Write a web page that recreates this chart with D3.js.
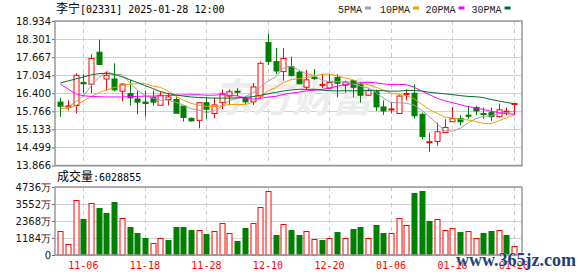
<!DOCTYPE html>
<html>
<head>
<meta charset="utf-8">
<script src="https://cdn.jsdelivr.net/npm/d3@7"></script>
<style>
  body { margin: 0; background: #fff; }
  svg { display: block; }
</style>
</head>
<body>
<svg width="578" height="276"></svg>
<script>
// trading days shown (2024-11-01 .. 2025-01-28)
const dates = ["11-01","11-04","11-05","11-06","11-07","11-08","11-11","11-12","11-13","11-14",
  "11-15","11-18","11-19","11-20","11-21","11-22","11-25","11-26","11-27","11-28",
  "11-29","12-02","12-03","12-04","12-05","12-06","12-09","12-10","12-11","12-12",
  "12-13","12-16","12-17","12-18","12-19","12-20","12-23","12-24","12-27","12-30",
  "12-31","01-02","01-03","01-06","01-07","01-08","01-09","01-10","01-13","01-14",
  "01-15","01-16","01-17","01-20","01-21","01-22","01-23","01-24","01-27","01-28"];

const opens = [16.09,15.92,15.97,16.78,16.72,17.84,16.90,16.90,16.47,16.39,
  16.20,16.09,16.26,15.98,16.18,16.18,15.95,15.52,15.45,16.07,
  15.69,16.07,16.30,16.47,16.22,16.10,16.30,18.18,17.51,17.16,
  17.33,17.14,16.61,16.95,16.69,16.58,16.95,16.68,16.84,16.70,
  16.33,16.45,15.92,15.83,15.69,16.37,16.40,15.66,14.69,14.71,
  15.02,15.40,15.51,15.63,15.90,15.69,15.72,15.58,15.76,16.03];
const highs = [16.24,16.15,17.10,17.07,17.77,18.28,17.16,17.45,16.74,16.87,
  16.49,16.49,16.49,16.46,16.41,16.26,15.95,15.55,16.07,16.26,
  16.24,16.53,16.53,16.58,16.30,16.76,17.51,18.49,17.99,17.99,
  17.68,17.22,17.22,17.25,17.07,17.07,17.07,16.84,16.87,16.79,
  16.56,16.53,16.15,16.07,16.33,16.54,16.71,15.72,15.02,15.37,
  15.49,15.92,15.63,15.96,15.96,15.90,15.90,16.04,15.90,16.05];
const lows = [15.58,15.80,15.69,16.41,16.41,17.39,16.49,16.47,16.12,15.97,
  15.66,15.58,15.97,15.98,15.98,15.70,15.41,15.41,15.17,15.51,
  15.52,15.84,15.98,16.30,15.99,15.99,16.24,17.39,17.07,16.84,
  16.99,16.73,16.53,16.87,16.58,16.53,16.26,16.41,16.26,16.07,
  16.30,15.78,15.64,15.69,15.69,16.15,15.51,14.79,14.35,14.56,
  15.02,15.40,15.28,15.51,15.63,15.51,15.43,15.55,15.63,15.63];
const closes = [15.94,15.96,17.03,16.73,17.62,17.41,17.03,16.52,16.72,16.24,
  16.09,16.04,16.09,16.33,16.27,15.70,15.55,15.43,16.07,15.84,
  15.99,16.38,16.45,16.44,16.10,16.62,17.45,17.51,17.18,17.62,
  17.02,16.73,16.87,16.93,16.71,16.78,16.75,16.79,16.61,16.33,
  16.49,15.92,15.78,15.85,16.30,16.39,15.61,14.88,14.70,15.05,
  15.20,15.51,15.40,15.61,15.78,15.66,15.58,15.82,15.77,16.04];
const prevClose = 15.80; // close of the day before the first bar

// volume, in 万 shares
const volumes = [1649,743,3808,2508,3599,3274,2903,3692,2554,1950,
  1532,1184,813,1161,1045,1950,1950,1741,1718,1463,
  1649,2206,1509,975,1881,2206,3320,4458,1393,2136,
  1741,1393,1649,1091,1045,1161,1602,1161,1811,1950,
  1161,2090,1532,1509,2554,2067,4319,4458,2368,2485,
  1718,1881,1602,1649,1161,1532,1672,1718,1393,602.8855];

// moving-average values before enough bars are on screen
const ma5Head = [15.96,15.90,16.10,16.30];
const ma10Head = [15.86,15.86,15.97,16.12,16.28,16.42,16.52,16.60,16.67];
const ma20Head = [16.72,16.55,16.38,16.31,16.29,16.28,16.27,16.27,16.27,16.28,
  16.29,16.30,16.30,16.31,16.32,16.33,16.34,16.35,16.35];
const ma30Head = [16.76,16.83,16.90,16.97,17.04,17.09,17.10,17.06,16.98,16.88,
  16.78,16.67,16.57,16.46,16.39,16.34,16.30,16.27,16.25,16.24,
  16.23,16.23,16.23,16.24,16.25,16.28,16.33,16.38,16.43];

const priceTicks = [18.934,18.301,17.667,17.034,16.400,15.766,15.133,14.499,13.866];
const volTicks = [0,1184,2368,3552,4736];
const labelDates = ["11-06","11-18","11-28","12-10","12-20","01-06","01-16","01-28"];
const maNames = ["5PMA","10PMA","20PMA","30PMA"];
const maColors = ["#a0a0a0","#f0a000","#ff00ff","#006f30"];

const red = "#ff0000", green = "#008000";
const left = 55, right = 522;
const svg = d3.select("svg");

const x = d3.scalePoint().domain(dates).range([60.3, 514]);
const y = d3.scaleLinear().domain([13.866, 18.934]).range([165.5, 21]);
const yv = d3.scaleLinear().domain([0, 4736]).range([255, 187]);
const px = d => Math.round(x(d)) + 0.5;

// title + legend
const title = svg.append("text").attr("x", 56).attr("y", 12.5).attr("fill", "#000");
title.append("tspan").style("font", '12px "Noto Sans CJK SC"').text("李宁");
title.append("tspan").style("font", '10px "DejaVu Sans Mono"').text("[02331] 2025-01-28 12:00");

const legendX = [338, 380, 425.5, 471.5];
maNames.forEach((name, k) => {
  svg.append("text").attr("x", legendX[k]).attr("y", 12.5)
    .style("font", '10px "Liberation Mono"').attr("fill", "#222").text(name);
  svg.append("rect").attr("x", legendX[k] + name.length * 6 + 3).attr("y", 6.5)
    .attr("width", 6).attr("height", 3).attr("fill", maColors[k]);
});

// grid
const grid = svg.append("g");
grid.selectAll("line.h").data(priceTicks).join("line")
  .attr("x1", left).attr("x2", right)
  .attr("y1", d => Math.round(y(d)) + 0.5).attr("y2", d => Math.round(y(d)) + 0.5)
  .attr("stroke", "#d0d0d0");
grid.selectAll("line.hv").data(volTicks).join("line")
  .attr("x1", left).attr("x2", right)
  .attr("y1", d => Math.round(yv(d)) + 0.5).attr("y2", d => Math.round(yv(d)) + 0.5)
  .attr("stroke", "#d0d0d0");
[[21, 165.5], [187, 255]].forEach(r => {
  grid.append("g").selectAll("line").data(labelDates).join("line")
    .attr("x1", px).attr("x2", px).attr("y1", r[0]).attr("y2", r[1])
    .attr("stroke", "#c8c8c8").attr("stroke-dasharray", "4,4");
});

// watermark
svg.append("text").attr("x", 212).attr("y", 112)
  .style("font", 'italic bold 40px "Noto Sans CJK SC"').attr("fill", "#ececec")
  .text("东方财富");

// axes
const yAxis = svg.append("g").attr("transform", `translate(${left},0)`)
  .call(d3.axisLeft(y).tickValues(priceTicks).tickFormat(d3.format(".3f")).tickSize(3).tickPadding(1));
const vAxis = svg.append("g").attr("transform", `translate(${left},0)`)
  .call(d3.axisLeft(yv).tickValues(volTicks).tickFormat(d => d ? d + "万" : "0").tickSize(3).tickPadding(1));
[yAxis, vAxis].forEach(a => {
  a.select(".domain").remove();
  a.selectAll("line").attr("stroke", "#666");
  a.selectAll("text").style("font", '10px "DejaVu Sans"').attr("fill", "#111");
});

// candles
const idx = d3.range(dates.length);
const up = i => closes[i] >= opens[i];
const candles = svg.append("g");
candles.selectAll("line").data(idx).join("line")
  .attr("x1", i => px(dates[i])).attr("x2", i => px(dates[i]))
  .attr("y1", i => y(highs[i])).attr("y2", i => y(lows[i]))
  .attr("stroke", i => up(i) ? red : green);
candles.selectAll("rect").data(idx).join("rect")
  .attr("x", i => px(dates[i]) - 2.5).attr("width", 5)
  .attr("y", i => y(Math.max(opens[i], closes[i])))
  .attr("height", i => Math.max(1, Math.abs(y(opens[i]) - y(closes[i]))))
  .attr("fill", i => up(i) ? "#fff" : green)
  .attr("stroke", i => up(i) ? red : green);

// moving averages
const maSeries = [[5, ma5Head], [10, ma10Head], [20, ma20Head], [30, ma30Head]].map(([n, head]) =>
  closes.map((c, i) => i < head.length ? head[i] : d3.mean(closes.slice(i - n + 1, i + 1))));
const maLine = d3.line().x((d, i) => x(dates[i])).y(d => y(d));
svg.append("g").selectAll("path").data(maSeries).join("path")
  .attr("d", maLine).attr("fill", "none")
  .attr("stroke", (d, k) => maColors[k]).attr("stroke-width", 1);

// volume bars (coloured by change against previous close)
const volUp = i => closes[i] >= (i ? closes[i - 1] : prevClose);
svg.append("g").selectAll("rect").data(idx).join("rect")
  .attr("x", i => px(dates[i]) - 2.5).attr("width", 5)
  .attr("y", i => Math.round(yv(volumes[i])) + 0.5)
  .attr("height", i => 255 - Math.round(yv(volumes[i])) - 0.5)
  .attr("fill", i => volUp(i) ? "#fff" : green)
  .attr("stroke", i => volUp(i) ? red : green);

// frames
[[21, 165.5], [187, 255]].forEach(r => {
  svg.append("rect").attr("x", left).attr("y", r[0])
    .attr("width", right - left).attr("height", r[1] - r[0])
    .attr("fill", "none").attr("stroke", "#999").attr("stroke-width", 1.5);
});

const vt = svg.append("text").attr("x", 57).attr("y", 180.5).attr("fill", "#000");
vt.append("tspan").style("font", '12px "Noto Sans CJK SC"').text("成交量");
vt.append("tspan").style("font", '10px "DejaVu Sans Mono"').text(":6028855");

// x labels
svg.append("g").selectAll("text").data(labelDates).join("text")
  .attr("x", d => x(d)).attr("y", 269).attr("text-anchor", "middle")
  .style("font", '10px "DejaVu Sans Mono"').attr("fill", red).text(d => d);

// site watermark
svg.append("text").attr("x", 456).attr("y", 266)
  .style("font", 'bold 18px "Liberation Serif"').attr("fill", "#1f3f7c")
  .attr("stroke", "#fff").attr("stroke-width", 0.6).attr("paint-order", "stroke")
  .text("www.365jz.com");
</script>
</body>
</html>
